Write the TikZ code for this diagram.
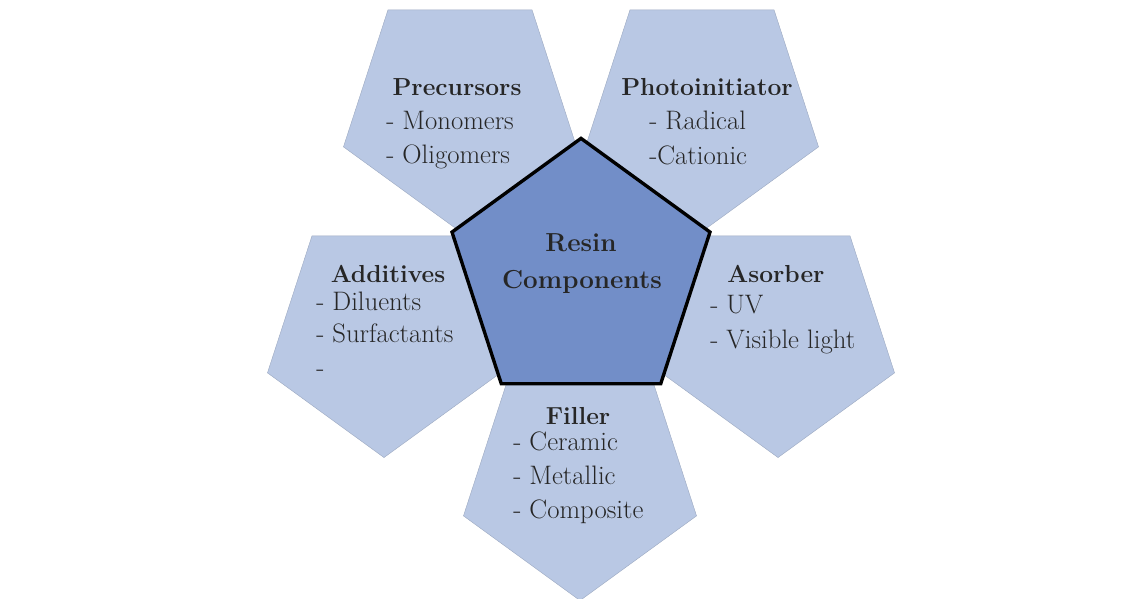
\documentclass[tikz,border=0pt]{standalone}
\usetikzlibrary{shapes.geometric}

\definecolor{petal}{RGB}{185,200,228}
\definecolor{core}{RGB}{114,142,200}
\definecolor{ink}{RGB}{38,38,38}

\begin{document}
\begin{tikzpicture}[x=0.025cm,y=-0.025cm,
    petalshape/.style={regular polygon,regular polygon sides=5,regular polygon rotate=180,
        minimum size=6.125cm,inner sep=0pt,fill=petal,draw=petal!85!black,line width=0.3pt},
    coreshape/.style={regular polygon,regular polygon sides=5,
        minimum size=6.78cm,inner sep=0pt,fill=core,draw=black,line width=2.4pt},
    heading/.style={anchor=base,text=ink,inner sep=0pt,font=\fontsize{17.5}{21}\selectfont\bfseries},
    entry/.style={anchor=base west,text=ink,inner sep=0pt,font=\fontsize{19}{23}\selectfont}]
  \useasboundingbox (0,0) rectangle (1148,598);

  % outer pentagons
  \node[petalshape] (prec) at (460,109) {};
  \node[petalshape] (photo) at (702,109) {};
  \node[petalshape] (addi) at (384,335) {};
  \node[petalshape] (asorb) at (778,335) {};
  \node[petalshape] (fill) at (580,478) {};

  % centre pentagon
  \node[coreshape] (resin) at (581,274) {};
  \node[heading,font=\fontsize{18.5}{22}\selectfont\bfseries] (resin-1) at (581,251) {Resin};
  \node[heading,font=\fontsize{18.5}{22}\selectfont\bfseries] (resin-2) at (582,288) {Components};

  % precursors
  \node[heading] (prec-t) at (457,95) {Precursors};
  \node[entry] (prec-1) at (386,129) {- Monomers};
  \node[entry] (prec-2) at (386,163) {- Oligomers};

  % photoinitiator
  \node[heading] (photo-t) at (707,95) {Photoinitiator};
  \node[entry] (photo-1) at (649,129) {- Radical};
  \node[entry] (photo-2) at (649,164) {-Cationic};

  % additives
  \node[heading] (addi-t) at (388,282) {Additives};
  \node[entry] (addi-1) at (316,310) {- Diluents};
  \node[entry] (addi-2) at (316,342) {- Surfactants};
  \node[entry] (addi-3) at (316,376) {-};

  % asorber
  \node[heading] (asorb-t) at (776,282) {Asorber};
  \node[entry] (asorb-1) at (710,313) {- UV};
  \node[entry] (asorb-2) at (710,348) {- Visible light};

  % filler
  \node[heading] (fill-t) at (578,424) {Filler};
  \node[entry] (fill-1) at (513,450) {- Ceramic};
  \node[entry] (fill-2) at (513,484) {- Metallic};
  \node[entry] (fill-3) at (513,518) {- Composite};
\end{tikzpicture}
\end{document}
